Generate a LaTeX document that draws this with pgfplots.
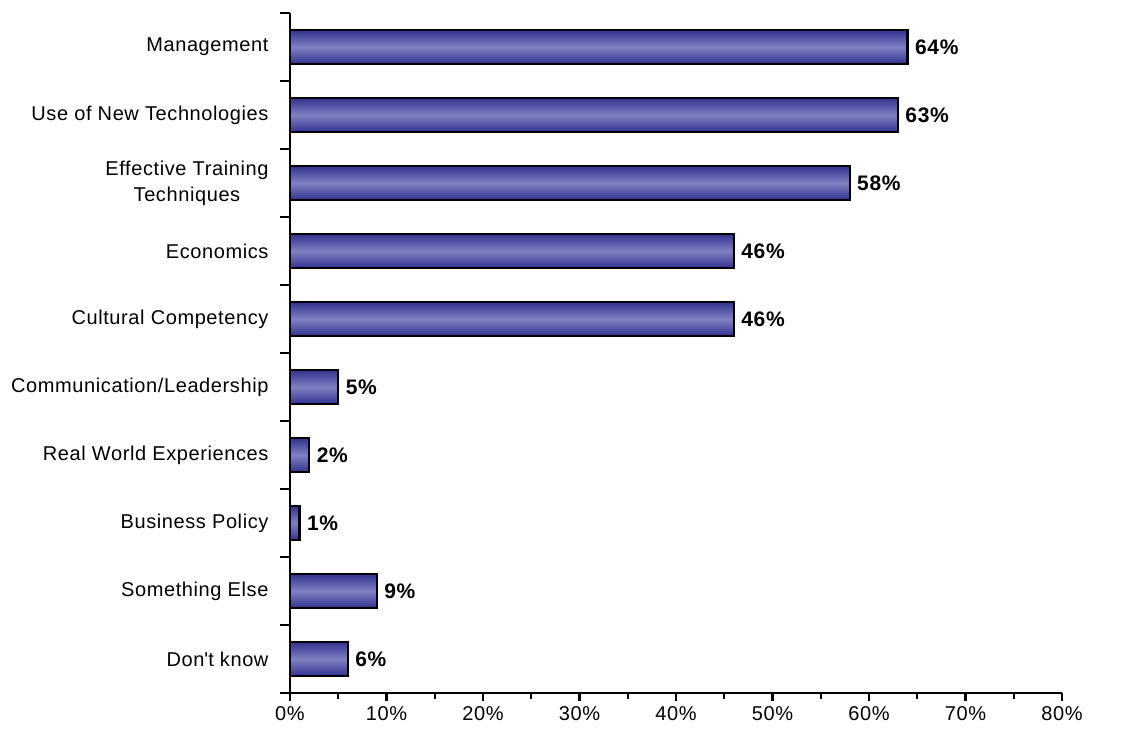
\documentclass[border=0pt]{standalone}
\usepackage{pgfplots}
\pgfplotsset{compat=1.18}
\usepackage{fontspec}
\setmainfont[LetterSpace=3]{Liberation Sans}
\definecolor{bardark}{RGB}{50,50,145}
\definecolor{barlight}{RGB}{128,128,196}
\begin{document}
\begin{tikzpicture}[font=\fontsize{20}{26}\selectfont]
\begin{axis}[
  xbar, bar width=34pt, bar shift=0pt,
  width=772pt, height=680pt, scale only axis,
  xmin=0, xmax=80, ymin=-0.5, ymax=9.5,
  axis lines=left, axis line style={line width=2.4pt,-},
  every tick/.style={line width=2.2pt,black},
  tick align=outside,
  major tick length=8pt, minor tick length=6pt,
  xtick={0,10,...,80}, minor xtick={5,15,...,75},
  xticklabel={\pgfmathprintnumber{\tick}\%},
  /pgf/number format/assume math mode=true,
  xticklabel style={yshift=-2pt},
  ytick={0,...,9},
  yticklabels={Don\textquotesingle t know, Something Else, Business Policy, Real World Experiences, Communication/Leadership, Cultural Competency, Economics, {Effective Training\\Techniques}, Use of New Technologies, Management},
  minor ytick={-0.5,0.5,...,9.5},
  minor y tick style={/pgfplots/minor tick length=10pt},
  major y tick style={draw=none},
  yticklabel style={align=center, xshift=-10pt},
  nodes near coords={\textbf{\pgfmathprintnumber{\pgfplotspointmeta}\%}},
  nodes near coords style={anchor=west, xshift=3pt, font=\fontsize{21}{26}\selectfont},
  barstyle/.style={draw=black, line width=2.4pt, top color=bardark, bottom color=bardark, middle color=barlight},
]
\addplot[barstyle] coordinates {(6,0)};
\addplot[barstyle] coordinates {(9,1)};
\addplot[barstyle] coordinates {(1,2)};
\addplot[barstyle] coordinates {(2,3)};
\addplot[barstyle] coordinates {(5,4)};
\addplot[barstyle] coordinates {(46,5)};
\addplot[barstyle] coordinates {(46,6)};
\addplot[barstyle] coordinates {(58,7)};
\addplot[barstyle] coordinates {(63,8)};
\addplot[barstyle] coordinates {(64,9)};
\coordinate (LL) at (rel axis cs:0,0);
\coordinate (UR) at (rel axis cs:1,1);
\end{axis}
\path[use as bounding box] ([xshift=-290pt,yshift=-39pt]LL) rectangle ([xshift=63pt,yshift=13pt]UR);
\end{tikzpicture}
\end{document}
